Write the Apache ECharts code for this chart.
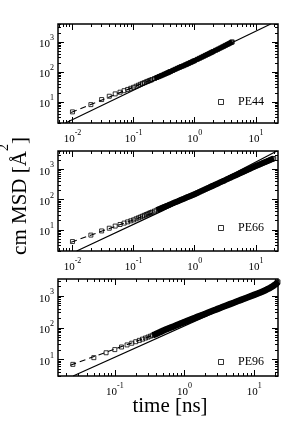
<!DOCTYPE html>
<html>
<head>
<meta charset="utf-8">
<script src="https://cdn.jsdelivr.net/npm/echarts@6/dist/echarts.min.js"></script>
<style>html,body{margin:0;padding:0;background:#fff}#c{width:300px;height:440px}</style>
</head>
<body>
<div id="c"></div>
<script>
// ---------- tick values ----------
const xMajorTicks = [0.01, 0.1, 1, 10];
const xMinorTicks = [0.006, 0.007, 0.008, 0.009, 0.02, 0.03, 0.04, 0.05, 0.06, 0.07, 0.08, 0.09,
  0.2, 0.3, 0.4, 0.5, 0.6, 0.7, 0.8, 0.9, 2, 3, 4, 5, 6, 7, 8, 9, 20];
const yMajorTicks = [10, 100, 1000];
const yMinorTicks = [2, 3, 4, 5, 6, 7, 8, 9, 20, 30, 40, 50, 60, 70, 80, 90,
  200, 300, 400, 500, 600, 700, 800, 900, 2000, 3000, 4000];

// ---------- axis ranges per panel ----------
const seriesNames = ['PE44', 'PE66', 'PE96'];
const xMin = [0.0058, 0.0058, 0.0153];
const xMax = [23, 23, 22];
const yMin = [2, 2, 3];
const yMax = [4000, 4000, 3500];
// time from which the points are so dense that they merge into a solid band
const denseFrom = [0.22, 0.24, 0.35];

// ---------- PE44 ----------
const t44 = [0.01,0.02,0.03,0.04,0.05,0.06,0.07,0.08,0.09,0.1,
  0.11,0.12,0.13,0.14,0.15,0.16,0.17,0.18,0.19,0.2,
  0.22,0.24,0.26,0.28,0.3,0.32,0.34,0.36,0.38,0.4,
  0.44,0.48,0.52,0.56,0.6,0.65,0.7,0.75,0.8,0.85,0.9,0.95,1.0,
  1.1,1.2,1.3,1.4,1.5,1.6,1.7,1.8,1.9,2.0,
  2.2,2.4,2.6,2.8,3.0,3.2,3.4,3.6,3.8,4.0,4.1];
const msd44 = [4.7,8.2,12.1,15.6,18.7,21.3,23.9,26.3,28.7,31.0,
  33.7,36.5,39.2,41.9,44.2,46.8,49.0,51.4,53.7,55.9,
  60.9,65.8,70.6,75.3,79.9,84.8,89.7,94.5,99.2,103.9,
  113.7,123.3,132.9,142.4,151.8,161,173,184,195,207,218,230,241,
  265,289,313,336,360,385,409,433,457,481,
  530,579,628,678,728,778,829,880,932,985,1010];
const fitT44 = [0.0077, 17.5];
const fitMsd44 = [2, 4000];
const shortT44 = [0.0095, 0.2];
const shortMsd44 = [4.5, 56];

// ---------- PE66 ----------
const t66 = [0.01,0.02,0.03,0.04,0.05,0.06,0.07,0.08,0.09,0.1,
  0.11,0.12,0.13,0.14,0.15,0.16,0.17,0.18,0.19,0.2,
  0.22,0.24,0.26,0.28,0.3,0.32,0.34,0.36,0.38,0.4,
  0.44,0.48,0.52,0.56,0.6,0.65,0.7,0.75,0.8,0.85,0.9,0.95,1.0,
  1.1,1.2,1.3,1.4,1.5,1.6,1.7,1.8,1.9,2.0,
  2.2,2.4,2.6,2.8,3.0,3.4,3.8,4.2,4.6,5.0,5.5,6.0,6.5,7.0,7.5,8.0,9.0,10,
  11,12,13,14,15,16,17,18,19,19.6];
const msd66 = [4.1,6.7,9.2,11.3,13.3,15.0,16.7,18.3,19.8,21.3,
  23.1,24.9,26.6,28.3,30.1,31.8,33.4,35.1,36.7,38.4,
  41.6,44.8,48.0,51.1,54.2,57.2,60.2,63.2,66.2,69.2,
  74.9,80.7,86.5,92.2,97.8,104.7,111.5,118.2,124.7,131.3,137.7,144.1,150.8,
  164.8,178.9,192.8,206.5,220.3,234.1,247.6,261.3,274.9,288.1,
  315,341,368,394,420,472,523,575,625,675,737,800,861,921,982,1043,1163,1282,
  1390,1496,1601,1705,1808,1910,2011,2111,2210,2269];
const fitT66 = [0.01173, 0.3, 22.1];
const fitMsd66 = [2, 43, 4000];
const shortT66 = [0.0095, 0.2];
const shortMsd66 = [3.9, 35.5];

// ---------- PE96 ----------
const t96 = [0.025,0.05,0.075,0.1,0.125,0.15,0.175,0.2,0.225,0.25,0.275,0.3,0.325,0.35,0.375,0.4,
  0.45,0.5,0.55,0.6,0.65,0.7,0.75,0.8,
  0.9,1.0,1.1,1.2,1.3,1.4,1.5,1.6,
  1.8,2.0,2.2,2.4,2.6,2.8,3.0,
  3.25,3.5,3.75,4.0,
  4.5,5.0,5.5,6.0,6.5,7.0,7.5,8.0,8.5,9.0,
  10,11,12,13,14,15,16,17,18,19,20,
  20.75,21.5,22];
const msd96 = [7.0,11.4,16.3,20.5,24.8,28.8,32.6,36.4,40.2,43.9,47.5,51.0,54.6,58.1,61.6,65.0,
  73.5,82,89.5,97,104,111,118,125,
  139,153,166,179,192,205,218,231,
  256,281,305,329,352,375,398,
  426,454,481,508,
  561,613,664,714,764,813,862,910,958,1005,
  1100,1195,1292,1392,1496,1605,1722,1848,1988,2145,2325,
  2480,2680,2850];
const fitT96 = [0.0252, 22];
const fitMsd96 = [3, 2450];
const shortT96 = [0.023, 0.35];
const shortMsd96 = [6.6, 58];

// ---------- build ----------
const F = "'Liberation Serif', 'DejaVu Serif', serif";
const pair = (xs, ys) => xs.map((x, i) => [x, ys[i]]);
const panels = [
  {t: t44, m: msd44, ft: fitT44, fm: fitMsd44, st: shortT44, sm: shortMsd44},
  {t: t66, m: msd66, ft: fitT66, fm: fitMsd66, st: shortT66, sm: shortMsd66},
  {t: t96, m: msd96, ft: fitT96, fm: fitMsd96, st: shortT96, sm: shortMsd96}
];
const gridBoxes = [
  {left: 58, top: 24, width: 220, height: 99},
  {left: 58, top: 151, width: 220, height: 100},
  {left: 58, top: 279, width: 220, height: 97}
];
const bandWidths = [5, 6, 6.5];
const tickRich = {
  b: {fontFamily: F, fontSize: 11, lineHeight: 16, verticalAlign: 'bottom', color: '#000'},
  s: {fontFamily: F, fontSize: 8, lineHeight: 8, verticalAlign: 'top', color: '#000'}
};
const fmt = v => '{b|10}{s|' + Math.round(Math.log10(v)) + '}';

function mkAxis(kind, g, pos, ticks, len, label) {
  const isX = kind === 'x';
  const a = {
    type: 'log', logBase: 10, gridIndex: g, position: pos,
    min: isX ? xMin[g] : yMin[g], max: isX ? xMax[g] : yMax[g],
    axisLine: {show: false, onZero: false},
    axisTick: {show: true, inside: true, length: len, customValues: ticks,
      lineStyle: {color: '#000', width: 1}},
    splitLine: {show: false}, minorTick: {show: false}, minorSplitLine: {show: false},
    axisLabel: {show: false}
  };
  if (label) {
    a.axisLabel = {show: true, customValues: ticks, formatter: fmt, rich: tickRich,
      margin: isX ? 6 : 4, color: '#000'};
  }
  return a;
}

const xAxes = [], yAxes = [], series = [], legends = [];
const legendTops = [95, 221, 355];
panels.forEach((p, g) => {
  xAxes.push(mkAxis('x', g, 'bottom', xMajorTicks, 6, true));
  xAxes.push(mkAxis('x', g, 'bottom', xMinorTicks, 3, false));
  xAxes.push(mkAxis('x', g, 'top', xMajorTicks, 6, false));
  xAxes.push(mkAxis('x', g, 'top', xMinorTicks, 3, false));
  yAxes.push(mkAxis('y', g, 'left', yMajorTicks, 6, true));
  yAxes.push(mkAxis('y', g, 'left', yMinorTicks, 3, false));
  yAxes.push(mkAxis('y', g, 'right', yMajorTicks, 6, false));
  yAxes.push(mkAxis('y', g, 'right', yMinorTicks, 3, false));
  const xi = 4 * g, yi = 4 * g;
  const pts = pair(p.t, p.m);
  series.push({type: 'line', name: 'fit' + g, xAxisIndex: xi, yAxisIndex: yi,
    data: pair(p.ft, p.fm), symbol: 'none', silent: true, clip: true,
    lineStyle: {color: '#000', width: 1.2}});
  series.push({type: 'line', name: 'short' + g, xAxisIndex: xi, yAxisIndex: yi,
    data: pair(p.st, p.sm), symbol: 'none', silent: true, clip: true,
    lineStyle: {color: '#000', width: 1.1, type: [6, 4]}});
  // overlapping markers of the dense part form a solid band
  series.push({type: 'line', name: 'band' + g, xAxisIndex: xi, yAxisIndex: yi,
    data: pts.filter(d => d[0] >= denseFrom[g]), symbol: 'none', silent: true, clip: true,
    lineStyle: {color: '#000', width: bandWidths[g], cap: 'butt', join: 'round'}});
  series.push({type: 'scatter', name: seriesNames[g], xAxisIndex: xi, yAxisIndex: yi,
    data: pts, symbol: 'rect', symbolSize: 4, silent: true,
    itemStyle: {color: 'rgba(0,0,0,0)', borderColor: '#000', borderWidth: 1}});
  legends.push({
    data: [{name: seriesNames[g], icon: 'path://M0,0H10V10H0Z'}],
    left: 218, top: legendTops[g], padding: 0, itemWidth: 24, itemHeight: 5,
    selectedMode: false,
    itemStyle: {color: 'rgba(0,0,0,0)', borderColor: '#000', borderWidth: 1},
    textStyle: {fontFamily: F, fontSize: 12, lineHeight: 14, color: '#000'}
  });
});

const chart = echarts.init(document.getElementById('c'), null, {renderer: 'canvas'});
chart.setOption({
  animation: false,
  backgroundColor: '#fff',
  grid: gridBoxes.map(b => Object.assign({show: true, borderColor: '#000', borderWidth: 1.5,
    backgroundColor: 'transparent', containLabel: false}, b)),
  xAxis: xAxes,
  yAxis: yAxes,
  legend: legends,
  series: series,
  graphic: [
    {type: 'text', x: 170, y: 406, silent: true,
      style: {text: 'time [ns]', fontFamily: F, fontSize: 21, fill: '#000',
        align: 'center', verticalAlign: 'middle'}},
    {type: 'text', x: 19.5, y: 196, rotation: Math.PI / 2, silent: true,
      style: {text: '{a|cm MSD [Å}{s|2}{a|]}', fill: '#000', align: 'center', verticalAlign: 'middle',
        rich: {
          a: {fontFamily: F, fontSize: 21, lineHeight: 22, verticalAlign: 'bottom', fill: '#000'},
          s: {fontFamily: F, fontSize: 14, lineHeight: 14, padding: [0, 0, 19, 0], verticalAlign: 'bottom', fill: '#000'}
        }}}
  ]
});
</script>
</body>
</html>
